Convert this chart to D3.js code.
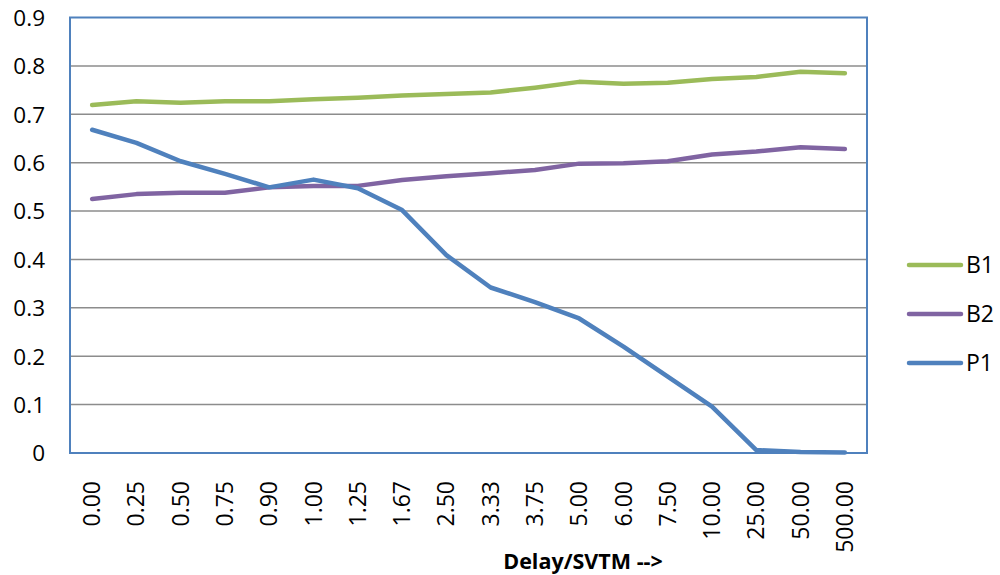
<!DOCTYPE html>
<html><head><meta charset="utf-8">
<script src="https://cdn.jsdelivr.net/npm/d3@7"></script>
<style>body{margin:0;background:#fff}svg{display:block}text{font-family:"Open Sans",sans-serif;fill:#000}</style>
</head><body><svg id="c" width="1000" height="575"></svg>
<script>
const categories=["0.00","0.25","0.50","0.75","0.90","1.00","1.25","1.67","2.50","3.33","3.75","5.00","6.00","7.50","10.00","25.00","50.00","500.00"];
const B1=[0.719,0.727,0.724,0.727,0.727,0.731,0.734,0.739,0.742,0.745,0.755,0.767,0.763,0.765,0.773,0.777,0.788,0.785];
const B2=[0.525,0.535,0.538,0.538,0.549,0.552,0.552,0.564,0.572,0.578,0.585,0.598,0.599,0.603,0.617,0.623,0.632,0.628];
const P1=[0.668,0.641,0.603,0.577,0.549,0.565,0.547,0.502,0.409,0.342,0.312,0.278,0.220,0.158,0.096,0.006,0.002,0.001];
const yTicks=[0,0.1,0.2,0.3,0.4,0.5,0.6,0.7,0.8,0.9];
const seriesNames=["B1","B2","P1"];
const colors={B1:"#9BBB59",B2:"#8064A2",P1:"#4F81BD"};
const dataMap={B1,B2,P1};

const svg=d3.select("#c");
const L=70,R=867,T=17.5,B=453;
const x=d3.scaleBand().domain(categories).range([L,R]);
const y=d3.scaleLinear().domain([0,0.9]).range([B,T]);

svg.append("g").selectAll("line").data(yTicks.filter(d=>d>0&&d<0.9)).join("line")
 .attr("x1",L).attr("x2",R).attr("y1",d=>y(d)).attr("y2",d=>y(d))
 .attr("stroke","#8c8c8c").attr("stroke-width",1.5);

svg.append("rect").attr("x",L).attr("y",T).attr("width",R-L).attr("height",B-T)
 .attr("fill","none").attr("stroke","#4F81BD").attr("stroke-width",2);

const ya=d3.axisLeft(y).tickValues(yTicks).tickFormat(d=>d===0?"0":d3.format(".1f")(d)).tickSize(0).tickPadding(0);
const gy=svg.append("g").attr("transform",`translate(${L-25},0)`).call(ya);
gy.select(".domain").remove();
gy.selectAll("text").attr("font-size",22.5).attr("font-family","Open Sans").attr("fill","#000").attr("dy","0.35em");

const xa=d3.axisBottom(x).tickSize(0).tickPadding(0);
const gx=svg.append("g").attr("transform",`translate(0,${B})`).call(xa);
gx.select(".domain").remove();
gx.selectAll("text").attr("font-size",23).attr("font-family","Open Sans").attr("fill","#000")
 .attr("text-anchor","end").attr("dy","0.35em").attr("y",0)
 .attr("transform","translate(0,28) rotate(-90)");

const line=d3.line().x((d,i)=>x(categories[i])+x.bandwidth()/2).y(d=>y(d));
seriesNames.forEach(n=>{
 svg.append("path").datum(dataMap[n]).attr("d",line).attr("fill","none")
  .attr("stroke",colors[n]).attr("stroke-width",4.5).attr("stroke-linejoin","round").attr("stroke-linecap","round");
});

const lg=svg.append("g");
seriesNames.forEach((n,i)=>{
 const yy=265+i*49;
 lg.append("line").attr("x1",909).attr("x2",961).attr("y1",yy).attr("y2",yy).attr("stroke",colors[n]).attr("stroke-width",4.5).attr("stroke-linecap","round");
 lg.append("text").attr("x",966).attr("y",yy).attr("dy","0.35em").attr("font-size",23).text(n);
});

svg.append("text").attr("x",583).attr("y",569).attr("text-anchor","middle").attr("font-size",21.5).attr("font-weight","bold").text("Delay/SVTM -->");
</script></body></html>
